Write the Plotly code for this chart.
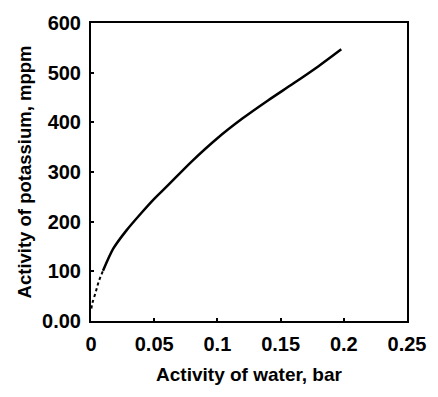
import plotly.graph_objects as go

# Data
x_dotted = [0.0003, 0.001, 0.0036, 0.0062, 0.0095]
y_dotted = [25, 35, 57, 80, 101]
x_solid = [0.0095, 0.0177, 0.0279, 0.04, 0.05, 0.06, 0.08, 0.1, 0.12, 0.14, 0.16, 0.18, 0.198]
y_solid = [101, 146, 182, 218, 246, 271, 322, 368, 408, 444, 478, 513, 547]

x_ticks = [0, 0.05, 0.1, 0.15, 0.2, 0.25]
x_ticklabels = ["0", "0.05", "0.1", "0.15", "0.2", "0.25"]
y_ticks = [0, 100, 200, 300, 400, 500, 600]
y_ticklabels = ["0.00", "100", "200", "300", "400", "500", "600"]

font_family = "Liberation Sans, Arial, sans-serif"

fig = go.Figure()
fig.add_trace(go.Scatter(x=x_dotted, y=y_dotted, mode="lines",
                         line=dict(color="black", width=2, dash="dot", shape="spline"),
                         showlegend=False, hoverinfo="skip"))
fig.add_trace(go.Scatter(x=x_solid, y=y_solid, mode="lines",
                         line=dict(color="black", width=2.5, shape="spline", smoothing=0.8),
                         showlegend=False, hoverinfo="skip"))

axis_common = dict(showgrid=False, zeroline=False, showline=True, linecolor="black",
                   linewidth=2, mirror=True, ticks="inside", ticklen=3,
                   tickcolor="black", tickwidth=1.5, ticklabelstandoff=4)

tickfont = dict(size=20, family=font_family, weight="bold")

fig.update_layout(
    width=438, height=397,
    margin=dict(l=91, r=21, t=15, b=76),
    plot_bgcolor="white", paper_bgcolor="white",
    font=dict(family=font_family, color="black"),
    xaxis=dict(range=[0, 0.25], tickvals=x_ticks, ticktext=x_ticklabels,
               tickfont=tickfont,
               title=dict(text="<b>Activity of water, bar</b>", font=dict(size=19), standoff=14),
               **axis_common),
    yaxis=dict(range=[0, 600], tickvals=y_ticks, ticktext=y_ticklabels,
               tickfont=tickfont,
               title=dict(text="<b>Activity of potassium, mppm</b>", font=dict(size=18.5), standoff=6),
               **axis_common),
)

fig.write_html("out.html")
